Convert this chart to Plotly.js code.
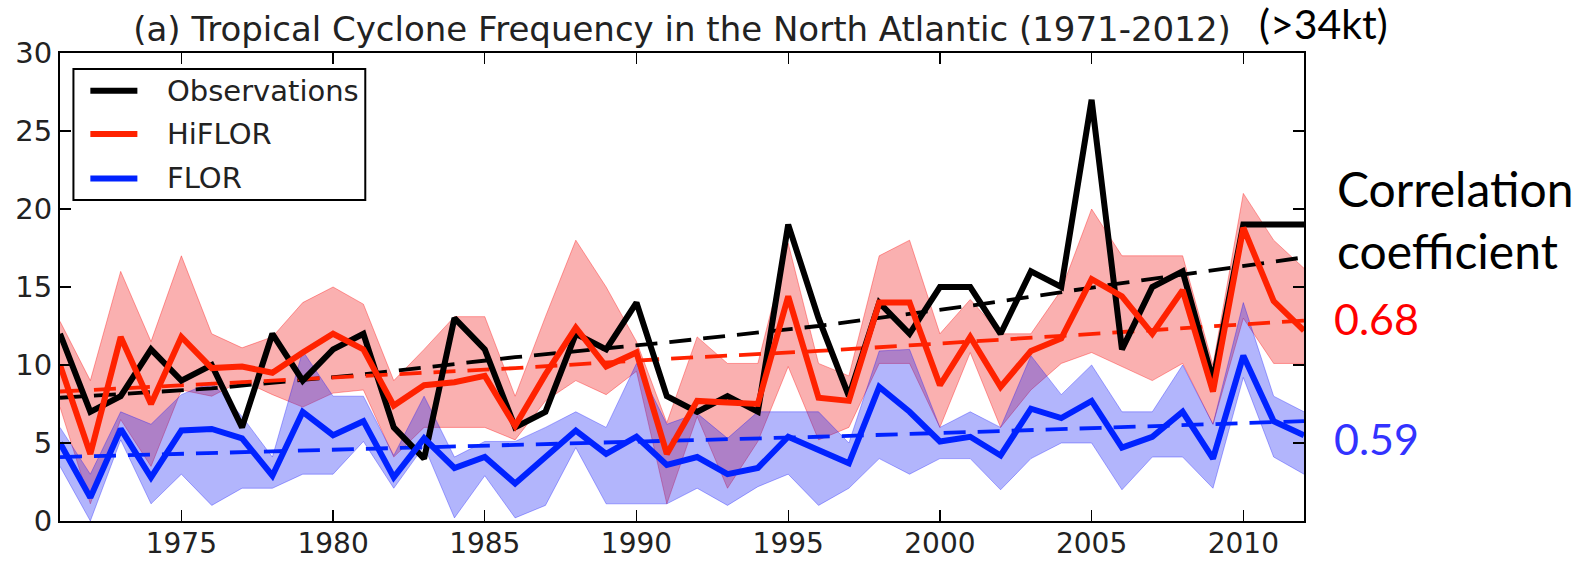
<!DOCTYPE html>
<html>
<head>
<meta charset="utf-8">
<script src="https://cdn.plot.ly/plotly-3.0.1.min.js"></script>
<style>
html,body{margin:0;padding:0;background:#fff;}
#chart{width:1591px;height:562px;}
</style>
</head>
<body>
<div id="chart"></div>
<script>
// ---- data ----
const years = [1971,1972,1973,1974,1975,1976,1977,1978,1979,1980,
               1981,1982,1983,1984,1985,1986,1987,1988,1989,1990,
               1991,1992,1993,1994,1995,1996,1997,1998,1999,2000,
               2001,2002,2003,2004,2005,2006,2007,2008,2009,2010,
               2011,2012];

const observations = [12,7,8,11,9,10,6,12,9,11,
                      12,6,4,13,11,6,7,12,11,14,
                      8,7,8,7,19,13,8,14,12,15,
                      15,12,16,15,27,11,15,16,9,19,
                      19,19];

const hiflor = [10.0,4.3,11.8,7.5,11.8,9.8,9.9,9.5,10.8,12.0,
                11.0,7.4,8.7,8.9,9.3,6.1,9.4,12.4,9.9,10.8,
                4.3,7.7,7.6,7.5,14.4,7.9,7.7,14.0,14.0,8.7,
                11.8,8.6,10.9,11.7,15.5,14.4,12.0,14.8,8.3,18.8,
                14.1,12.2];
const hiflorMax = [12.8,9.0,16.0,11.5,17.0,12.0,11.1,11.8,14.0,15.0,
                   13.9,9.0,11.0,13.1,13.1,8.0,13.1,18.0,15.0,11.5,
                   6.3,11.8,10.1,10.1,17.8,10.1,9.3,17.0,18.0,12.0,
                   14.2,12.0,12.0,14.8,20.0,17.0,17.0,17.0,10.0,21.0,
                   18.0,16.2];
const hiflorMin = [7.3,1.1,6.5,3.5,8.4,8.0,9.0,8.1,7.3,8.2,
                   8.4,4.1,6.0,6.0,6.0,5.2,7.7,9.0,8.1,9.6,
                   1.1,6.7,2.1,5.1,9.9,5.2,6.0,10.1,10.1,6.0,
                   10.8,6.0,8.4,10.1,10.8,9.9,9.0,10.1,6.2,13.0,
                   10.1,10.1];

const flor = [5.0,1.5,5.9,2.8,5.8,5.9,5.3,2.9,7.0,5.5,
              6.4,2.8,5.3,3.4,4.1,2.4,4.1,5.8,4.3,5.4,
              3.6,4.1,3.0,3.4,5.4,4.6,3.7,8.6,7.0,5.1,
              5.4,4.2,7.2,6.6,7.7,4.7,5.4,7.0,4.0,10.6,
              6.4,5.5];
const florMax = [6.0,3.0,7.0,6.2,8.1,8.9,6.7,4.1,10.9,8.0,
                 8.0,4.2,8.0,4.1,5.1,5.1,6.0,7.0,6.0,10.1,
                 6.2,6.9,5.3,7.0,7.0,7.0,5.0,10.9,11.0,6.0,
                 7.0,6.0,10.6,8.1,10.0,7.0,7.0,10.0,6.2,14.0,
                 8.0,7.0];
const florMin = [3.5,0.0,5.2,1.1,3.0,1.0,2.1,2.1,3.0,3.0,
                 5.1,2.1,4.8,0.2,2.9,0.2,1.0,4.7,1.1,1.1,
                 1.1,2.1,1.0,2.2,3.0,1.0,2.1,4.0,3.0,4.0,
                 4.0,2.0,4.0,5.0,5.0,2.0,4.1,4.1,2.1,9.2,
                 4.1,3.0];

// dashed trend lines (read at sample years)
const trendYears = [1971,1976,1981,1986,1991,1996,2001,2006,2012];
const obsTrend    = [7.9,8.5,9.4,10.5,11.45,12.5,13.8,15.25,16.9];
const hiflorTrend = [8.3,8.8,9.3,9.8,10.4,10.9,11.5,12.1,12.85];
const florTrend   = [4.1,4.35,4.6,4.85,5.1,5.4,5.7,6.0,6.4];

const xTicks = [1975,1980,1985,1990,1995,2000,2005,2010];
const yTicks = [0,5,10,15,20,25,30];

const legendNames = ['Observations','HiFLOR','FLOR'];
const correlationLabel = ['Correlation','coefficient'];
const correlations = ['0.68','0.59'];

// ---- styles ----
const RED = '#ff2200', BLUE = '#0022ff', BLACK = '#000000';
const FONT = 'DejaVu Sans, sans-serif';
const SIDEFONT = 'Lato, Open Sans, sans-serif';
const dash = '22px,12px';

const traces = [
  // HiFLOR band
  {x: years, y: hiflorMin, mode:'lines', line:{color:'rgba(255,0,0,0.35)', width:1}, showlegend:false, hoverinfo:'skip'},
  {x: years, y: hiflorMax, mode:'lines', fill:'tonexty', fillcolor:'rgba(240,30,30,0.35)',
   line:{color:'rgba(255,0,0,0.35)', width:1}, showlegend:false, hoverinfo:'skip'},
  // FLOR band
  {x: years, y: florMin, mode:'lines', line:{color:'rgba(0,0,255,0.3)', width:1}, showlegend:false, hoverinfo:'skip'},
  {x: years, y: florMax, mode:'lines', fill:'tonexty', fillcolor:'rgba(20,30,245,0.33)',
   line:{color:'rgba(0,0,255,0.3)', width:1}, showlegend:false, hoverinfo:'skip'},
  // trend lines
  {x: trendYears, y: obsTrend, mode:'lines', line:{color:BLACK, width:3.8, dash:dash}, showlegend:false},
  {x: trendYears, y: hiflorTrend, mode:'lines', line:{color:RED, width:3.8, dash:dash}, showlegend:false},
  {x: trendYears, y: florTrend, mode:'lines', line:{color:BLUE, width:3.8, dash:dash}, showlegend:false},
  // main lines
  {x: years, y: observations, mode:'lines', name:legendNames[0], line:{color:BLACK, width:6}, showlegend:false},
  {x: years, y: hiflor, mode:'lines', name:legendNames[1], line:{color:RED, width:6}, showlegend:false},
  {x: years, y: flor, mode:'lines', name:legendNames[2], line:{color:BLUE, width:6}, showlegend:false}
];

// ---- legend box (drawn in paper coordinates) ----
const legendColors = [BLACK, RED, BLUE];
const legendRowsY = [0.9194, 0.8268, 0.7321];
const shapes = [
  {type:'rect', xref:'paper', yref:'paper', x0:0.0108, x1:0.2454, y0:0.6857, y1:0.9658,
   fillcolor:'#ffffff', line:{color:'#000', width:2}, layer:'above'}
];
const annotations = [];
legendNames.forEach((nm, i) => {
  shapes.push({type:'line', xref:'paper', yref:'paper', x0:0.0244, x1:0.0622,
               y0:legendRowsY[i], y1:legendRowsY[i], line:{color:legendColors[i], width:6}, layer:'above'});
  annotations.push({text:nm, xref:'paper', yref:'paper', x:0.0845, y:legendRowsY[i],
                    xanchor:'left', yanchor:'middle', showarrow:false,
                    font:{family:FONT, size:29, color:'#222'}});
});

annotations.push(
  {text:'(>34kt)', xref:'paper', yref:'paper', x:0.962, y:1.064, xanchor:'left', yanchor:'middle',
   showarrow:false, font:{family:SIDEFONT, size:41, color:'#000'}},
  {text:correlationLabel[0], xref:'paper', yref:'paper', x:1.0249, y:0.711, xanchor:'left', yanchor:'middle',
   showarrow:false, font:{family:SIDEFONT, size:48, color:'#000'}},
  {text:correlationLabel[1], xref:'paper', yref:'paper', x:1.0249, y:0.577, xanchor:'left', yanchor:'middle',
   showarrow:false, font:{family:SIDEFONT, size:48, color:'#000'}},
  {text:correlations[0], xref:'paper', yref:'paper', x:1.0222, y:0.433, xanchor:'left', yanchor:'middle',
   showarrow:false, font:{family:SIDEFONT, size:43, color:'#ff0000'}},
  {text:correlations[1], xref:'paper', yref:'paper', x:1.0222, y:0.177, xanchor:'left', yanchor:'middle',
   showarrow:false, font:{family:SIDEFONT, size:43, color:'#3333ff'}}
);

const layout = {
  width:1591, height:562,
  paper_bgcolor:'#fff', plot_bgcolor:'#fff',
  margin:{l:60, r:287, t:53, b:41, pad:0},
  font:{family:FONT, size:27, color:'#222'},
  showlegend:false,
  title:{text:'(a) Tropical Cyclone Frequency in the North Atlantic (1971-2012)',
         font:{family:FONT, size:34, color:'#222'},
         x:0.5, xref:'paper', xanchor:'center', y:0.948, yref:'container', yanchor:'middle'},
  xaxis:{range:[1971,2012], tickvals:xTicks, ticktext:xTicks.map(String),
         showgrid:false, zeroline:false, showline:true, linecolor:'#000', linewidth:2,
         mirror:'ticks', ticks:'inside', ticklen:11, tickwidth:1.2, tickcolor:'#000',
         ticklabelstandoff:-4,
         tickfont:{family:FONT, size:28, color:'#222'}},
  yaxis:{range:[0,30], tickvals:yTicks, ticktext:yTicks.map(String),
         showgrid:false, zeroline:false, showline:true, linecolor:'#000', linewidth:2,
         mirror:'ticks', ticks:'inside', ticklen:11, tickwidth:1.2, tickcolor:'#000',
         tickfont:{family:FONT, size:29, color:'#222'}},
  shapes: shapes,
  annotations: annotations
};

Plotly.newPlot('chart', traces, layout, {displayModeBar:false, staticPlot:true});
</script>
</body>
</html>
